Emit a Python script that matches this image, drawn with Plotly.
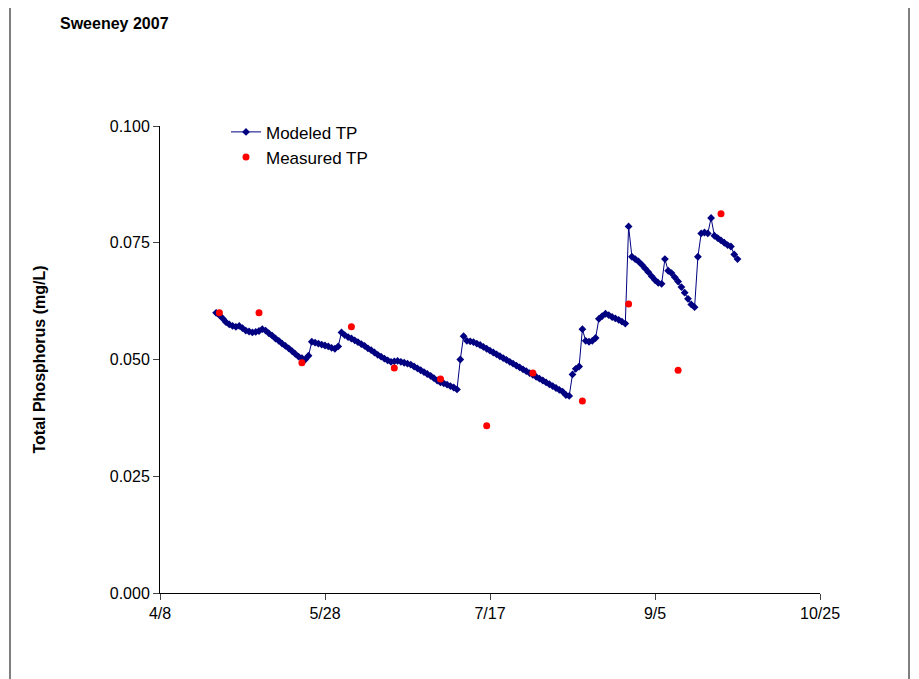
import datetime as dt
import plotly.graph_objects as go

start_day = 17  # days after 4/8/2007
modeled_tp = [
    .0600, .0595, .0588, .0580, .0575, .0572, .0570, .0572, .0567, .0562,
    .0560, .0558, .0559, .0561, .0565, .0562, .0556, .0551, .0545, .0540,
    .0534, .0529, .0524, .0518, .0512, .0506, .0503, .0500, .0508, .0538,
    .0536, .0534, .0532, .0530, .0528, .0525, .0523, .0528, .0558, .0552,
    .0548, .0545, .0541, .0537, .0533, .0529, .0524, .0520, .0515, .0510,
    .0506, .0502, .0498, .0495, .0496, .0497, .0495, .0493, .0491, .0489,
    .0485, .0481, .0477, .0473, .0469, .0465, .0460, .0455, .0451, .0449,
    .0446, .0443, .0440, .0436, .0500, .0550, .0540, .0539, .0537, .0534,
    .0531, .0527, .0523, .0519, .0515, .0511, .0507, .0503, .0499, .0495,
    .0491, .0487, .0483, .0479, .0475, .0471, .0467, .0463, .0459, .0455,
    .0451, .0447, .0443, .0439, .0435, .0431, .0424, .0422, .0468, .0480,
    .0485, .0565, .0540, .0538, .0540, .0546, .0587, .0593, .0598, .0595,
    .0591, .0588, .0585, .0581, .0577, .0785, .0720, .0715, .0710, .0703,
    .0695, .0687, .0678, .0670, .0664, .0662, .0715, .0690, .0685, .0676,
    .0667, .0655, .0643, .0630, .0618, .0612, .0720, .0770, .0772, .0770,
    .0803, .0765, .0760, .0755, .0750, .0745, .0742, .0725, .0715,
]
measured_days = [18, 30, 43, 58, 71, 85, 99, 113, 128, 142, 157, 170]
measured_tp = [.0600, .0600, .0493, .0570, .0482, .0458, .0358, .0471,
               .0411, .0619, .0477, .0812]
tick_labels = ["4/8", "5/28", "7/17", "9/5", "10/25"]

base = dt.date(2007, 4, 8)
mod_x = [base + dt.timedelta(days=start_day + i) for i in range(len(modeled_tp))]
meas_x = [base + dt.timedelta(days=d) for d in measured_days]
tick_vals = [base + dt.timedelta(days=50 * i) for i in range(len(tick_labels))]

fig = go.Figure()
fig.add_trace(go.Scatter(x=mod_x, y=modeled_tp, name="Modeled TP",
                         mode="lines+markers",
                         line=dict(color="#000080", width=1),
                         marker=dict(symbol="diamond", size=6, color="#000080")))
fig.add_trace(go.Scatter(x=meas_x, y=measured_tp, name="Measured TP",
                         mode="markers",
                         marker=dict(size=7, color="#ff0000")))

# page body adds an 8px offset, so margins are shifted by 8
fig.update_layout(
    width=919, height=679,
    margin=dict(l=152, r=107, t=118, b=94),
    paper_bgcolor="white", plot_bgcolor="white",
    font=dict(family="Liberation Sans, Arial", size=16, color="black"),
    showlegend=True,
    legend=dict(x=0.1, y=1.025, xanchor="left", yanchor="top",
                bgcolor="rgba(0,0,0,0)", font=dict(size=17)),
    xaxis=dict(range=[tick_vals[0], tick_vals[-1]], tickvals=tick_vals,
               ticktext=tick_labels, showline=True, linecolor="black",
               ticks="outside", ticklen=6, showgrid=False, zeroline=False),
    yaxis=dict(range=[0, 0.1], tickvals=[0, .025, .05, .075, .1],
               tickformat=".3f", showline=True, linecolor="black",
               ticks="outside", ticklen=6, showgrid=False, zeroline=False,
               title=dict(text="<b>Total Phosphorus (mg/L)</b>", standoff=60,
                          font=dict(size=16))),
    annotations=[dict(text="<b>Sweeney 2007</b>", xref="paper", yref="paper",
                      x=(50 - 152) / 660, y=(585 - 16) / 467,
                      xanchor="left", yanchor="middle", showarrow=False,
                      font=dict(size=16))],
    shapes=[dict(type="rect", xref="paper", yref="paper",
                 x0=(2 - 152) / 660, x1=(901 - 152) / 660,
                 y0=(585 - 684) / 467, y1=(585 + 5) / 467,
                 line=dict(color="black", width=1))],
)

fig.write_html("out.html")
